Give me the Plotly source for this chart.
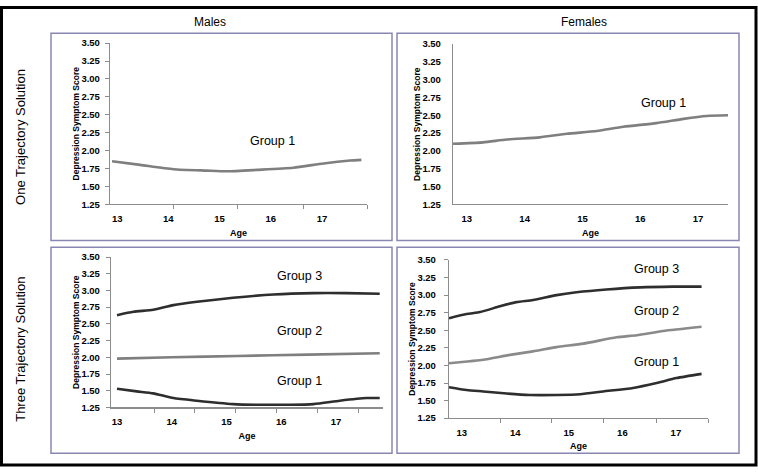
import plotly.graph_objects as go

W, H = 758, 472

# ---------------- data ----------------
age_labels = [13, 14, 15, 16, 17]
y_ticks = [1.25, 1.50, 1.75, 2.00, 2.25, 2.50, 2.75, 3.00, 3.25, 3.50]

m1_age = [12.90, 13.45, 14.10, 14.75, 15.14, 15.73, 16.44, 17.03, 17.55, 17.77]
m1_g1 = [1.85, 1.80, 1.74, 1.72, 1.71, 1.73, 1.76, 1.82, 1.86, 1.87]

f1_age = [12.76, 13.28, 13.69, 14.26, 14.73, 15.25, 15.71, 16.28, 16.75, 17.15, 17.52]
f1_g1 = [2.10, 2.12, 2.16, 2.19, 2.24, 2.28, 2.34, 2.39, 2.45, 2.49, 2.50]

m3_g3_age = [13.0, 13.30, 13.66, 14.03, 14.46, 15.12, 15.86, 16.59, 17.19, 17.80]
m3_g3 = [2.63, 2.68, 2.71, 2.78, 2.83, 2.89, 2.94, 2.96, 2.96, 2.95]
m3_g2_age = [13.0, 14.0, 15.2, 16.5, 17.80]
m3_g2 = [1.98, 2.00, 2.02, 2.04, 2.06]
m3_g1_age = [13.0, 13.36, 13.66, 14.03, 14.46, 15.12, 15.55, 16.16, 16.59, 17.07, 17.56, 17.80]
m3_g1 = [1.53, 1.49, 1.46, 1.39, 1.35, 1.30, 1.29, 1.29, 1.30, 1.35, 1.39, 1.39]

f3_g3_age = [12.76, 13.09, 13.34, 13.71, 14.02, 14.33, 14.77, 15.14, 15.70, 16.33, 16.95, 17.48]
f3_g3 = [2.67, 2.73, 2.76, 2.84, 2.90, 2.93, 3.00, 3.04, 3.08, 3.11, 3.12, 3.12]
f3_g2_age = [12.76, 13.15, 13.40, 13.90, 14.33, 14.77, 15.27, 15.89, 16.27, 16.76, 17.48]
f3_g2 = [2.03, 2.06, 2.08, 2.15, 2.20, 2.26, 2.31, 2.40, 2.43, 2.49, 2.55]
f3_g1_age = [12.76, 13.09, 13.40, 13.84, 14.27, 14.77, 15.21, 15.64, 16.20, 16.64, 17.01, 17.48]
f3_g1 = [1.69, 1.65, 1.63, 1.60, 1.58, 1.58, 1.59, 1.63, 1.68, 1.75, 1.82, 1.88]

col_titles = ["Males", "Females"]
row_titles = ["One Trajectory Solution", "Three Trajectory Solution"]
y_title = "Depression Symptom Score"
x_title = "Age"

# ---------------- styling ----------------
DARK = "#2e2e2e"
GRAY = "#7f7f7f"
LGRAY = "#8a8a8a"
AXC = "#8c8c8c"
BORDER = "#8a86b2"
FONT = "Liberation Sans, Arial, sans-serif"

# plot-area pixel boxes: (x0, x1, ytop, ybottom), x range, minor tick positions, ytick flag, label gap
panels = [
    dict(box=(110, 367, 38, 203), xr=[12.86, 17.88], minor=[14.11, 15.36, 16.63, 17.88], yt=True, gap=3),
    dict(box=(453, 728, 39, 203), xr=[12.76, 17.52], minor=[], yt=False, gap=9),
    dict(box=(111, 383, 257, 411), xr=[12.89, 17.86], minor=[13.68, 14.42, 15.17, 15.92, 16.67, 17.42], yt=True, gap=4),
    dict(box=(449, 708, 260, 422), xr=[12.76, 17.60], minor=[13.73, 14.68, 15.65, 16.64, 17.60], yt=True, gap=6),
]

fig = go.Figure()

def add_line(i, x, y, color):
    sfx = "" if i == 0 else str(i + 1)
    fig.add_trace(go.Scatter(x=x, y=y, mode="lines",
                             line=dict(color=color, width=2.6, shape="spline", smoothing=0.6),
                             xaxis="x" + sfx, yaxis="y" + sfx, showlegend=False, hoverinfo="skip"))

add_line(0, m1_age, m1_g1, GRAY)
add_line(1, f1_age, f1_g1, GRAY)
add_line(2, m3_g3_age, m3_g3, DARK)
add_line(2, m3_g2_age, m3_g2, GRAY)
add_line(2, m3_g1_age, m3_g1, DARK)
add_line(3, f3_g3_age, f3_g3, DARK)
add_line(3, f3_g2_age, f3_g2, LGRAY)
add_line(3, f3_g1_age, f3_g1, DARK)

layout = dict(width=W, height=H, margin=dict(l=0, r=0, t=0, b=0),
              paper_bgcolor="white", plot_bgcolor="white",
              font=dict(family=FONT, color="black"))

for i, p in enumerate(panels):
    x0, x1, yt, yb = p["box"]
    sfx = "" if i == 0 else str(i + 1)
    layout["xaxis" + sfx] = dict(
        domain=[x0 / W, x1 / W], range=p["xr"], anchor="y" + sfx,
        tickmode="array", tickvals=age_labels, ticktext=[str(a) for a in age_labels],
        ticks="", showgrid=False, zeroline=False, showline=True, linecolor=AXC, linewidth=1.2,
        tickfont=dict(size=9.5, family=FONT, weight="bold"), ticklabelstandoff=5,
        minor=dict(tickmode="array", tickvals=p["minor"], ticks="outside" if p["minor"] else "",
                   ticklen=4, tickcolor=AXC, showgrid=False),
        title=dict(text=x_title, font=dict(size=9, family=FONT, weight="bold"), standoff=6),
        fixedrange=True,
    )
    layout["yaxis" + sfx] = dict(
        domain=[1 - yb / H, 1 - yt / H], range=[1.25, 3.5], anchor="x" + sfx,
        tickmode="array", tickvals=y_ticks, tickformat=".2f",
        ticks="outside" if p["yt"] else "", ticklen=4, tickcolor=AXC,
        ticklabelstandoff=p["gap"],
        showgrid=False, zeroline=False, showline=True, linecolor=AXC, linewidth=1.2,
        tickfont=dict(size=9.5, family=FONT, weight="bold"),
        title=dict(text=y_title, font=dict(size=8.5, family=FONT, weight="bold"), standoff=0),
        fixedrange=True,
    )

fig.update_layout(**layout)

shapes = []
# outer border
shapes.append(dict(type="rect", xref="paper", yref="paper",
                   x0=1.5 / W, x1=756 / W, y0=1 - 470 / H, y1=1 - 1.5 / H,
                   line=dict(color="black", width=3)))
# panel borders
for (bx0, bx1, by0, by1) in [(51, 392, 28, 240), (397, 739, 28, 240),
                             (51, 392, 247, 458), (397, 739, 247, 458)]:
    shapes.append(dict(type="rect", xref="paper", yref="paper",
                       x0=bx0 / W, x1=bx1 / W, y0=1 - by1 / H, y1=1 - by0 / H,
                       line=dict(color=BORDER, width=1.5)))
fig.update_layout(shapes=shapes)

ann = []
# column titles
for txt, px in zip(col_titles, [210, 584]):
    ann.append(dict(text=txt, xref="paper", yref="paper", x=px / W, y=1 - 16 / H,
                    showarrow=False, font=dict(size=12, family=FONT), xanchor="center", yanchor="middle"))
# row titles
for txt, py in zip(row_titles, [134, 352]):
    ann.append(dict(text=txt, xref="paper", yref="paper", x=21 / W, y=1 - py / H, textangle=-90,
                    showarrow=False, font=dict(size=13, family=FONT), xanchor="center", yanchor="middle"))
# group labels
grp = [
    (0, "Group 1", 16.04, 2.14),
    (1, "Group 1", 16.40, 2.67),
    (2, "Group 3", 16.34, 3.21),
    (2, "Group 2", 16.34, 2.39),
    (2, "Group 1", 16.34, 1.65),
    (3, "Group 3", 16.64, 3.37),
    (3, "Group 2", 16.64, 2.77),
    (3, "Group 1", 16.64, 2.05),
]
for i, txt, gx, gy in grp:
    sfx = "" if i == 0 else str(i + 1)
    ann.append(dict(text=txt, xref="x" + sfx, yref="y" + sfx, x=gx, y=gy, showarrow=False,
                    font=dict(size=12.5, family=FONT), xanchor="center", yanchor="middle"))
fig.update_layout(annotations=ann)

fig.write_html("out.html", config={"displayModeBar": False, "staticPlot": True})
with open("out.html", "r", encoding="utf-8") as f:
    html = f.read()
html = html.replace("<body>", '<body style="margin:0;padding:0;overflow:hidden">', 1)
html = html.replace("<head>", '<head><style>html,body{margin:0;padding:0;}</style>', 1)
with open("out.html", "w", encoding="utf-8") as f:
    f.write(html)
